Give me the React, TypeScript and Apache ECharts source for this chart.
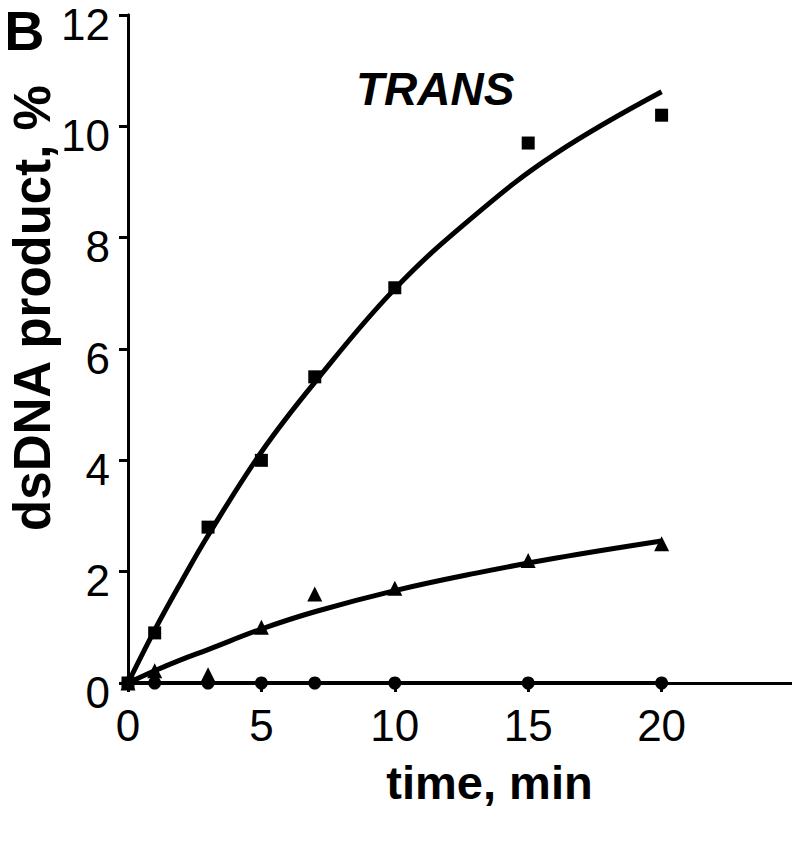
import React, { useEffect, useRef } from "react";
import * as echarts from "echarts";

// measured time points (min)
const squareTimes = [0, 1, 3, 5, 7, 10, 15, 20];
const squareValues = [0, 0.9, 2.8, 4.0, 5.5, 7.1, 9.7, 10.2];
const triangleTimes = [0, 1, 3, 5, 7, 10, 15, 20];
const triangleValues = [0, 0.22, 0.15, 1.0, 1.6, 1.7, 2.2, 2.5];
const circleTimes = [0, 1, 3, 5, 7, 10, 15, 20];
const circleValues = [0, 0, 0, 0, 0, 0, 0, 0];

// fitted curves
const fitTimes = [0, 1, 2, 3, 5, 7, 10, 13, 16, 20];
const squareFit = [0, 0.95, 1.82, 2.65, 4.15, 5.4, 7.08, 8.4, 9.5, 10.62];
const triangleFit = [0, 0.22, 0.42, 0.6, 0.97, 1.28, 1.66, 1.97, 2.24, 2.55];
const circleFitTimes = [0, 20];
const circleFit = [0, 0];

const xTicks = [0, 5, 10, 15, 20];
const yTicks = [0, 2, 4, 6, 8, 10, 12];

const FONT = "'Liberation Sans', Arial, sans-serif";

const pair = (xs: number[], ys: number[]) => xs.map((x, i) => [x, ys[i]]);

export default function App() {
  const ref = useRef<HTMLDivElement>(null);
  useEffect(() => {
    if (!ref.current) return;
    const chart = echarts.init(ref.current, null, { renderer: "svg" });
    const axisLine = { show: true, lineStyle: { color: "#000", width: 3 } };
    chart.setOption({
      animation: false,
      backgroundColor: "#fff",
      grid: {
        left: 128,
        right: 5,
        top: 15,
        bottom: 159,
        containLabel: false,
        outerBoundsMode: "none",
      },
      xAxis: [
        {
          type: "value",
          min: 0,
          max: 25,
          interval: 5,
          axisLine,
          axisTick: { show: true, length: 9, inside: false, lineStyle: { color: "#000", width: 3 } },
          splitLine: { show: false },
          axisLabel: {
            margin: 20,
            fontSize: 44,
            fontFamily: FONT,
            color: "#000",
            formatter: (v: number) => (xTicks.includes(v) ? String(v) : ""),
          },
          name: "time, min",
          nameLocation: "middle",
          nameGap: 76,
          nameTextStyle: {
            fontSize: 47,
            fontWeight: "bold",
            fontFamily: FONT,
            color: "#000",
            padding: [0, 0, 0, 56],
          },
        },
        {
          type: "value",
          position: "top",
          min: 0,
          max: 25,
          interval: 5,
          axisLine,
          axisTick: { show: false },
          axisLabel: { show: false },
          splitLine: { show: false },
        },
      ],
      yAxis: [
        {
          type: "value",
          min: 0,
          max: 12,
          interval: 2,
          axisLine,
          axisTick: { show: true, length: 9, lineStyle: { color: "#000", width: 3 } },
          splitLine: { show: false },
          axisLabel: {
            margin: 18,
            fontSize: 44,
            lineHeight: 18,
            verticalAlign: "top",
            fontFamily: FONT,
            color: "#000",
            formatter: (v: number) => (yTicks.includes(v) ? String(v) : ""),
          },
        },
        {
          type: "value",
          position: "right",
          min: 0,
          max: 12,
          interval: 2,
          axisLine,
          axisTick: { show: false },
          axisLabel: { show: false },
          splitLine: { show: false },
        },
      ],
      graphic: [
        {
          type: "text",
          left: 4,
          top: 2,
          style: {
            text: "B",
            fontSize: 56,
            fontWeight: "bold",
            fontFamily: FONT,
            fill: "#000",
          },
        },
        {
          type: "text",
          left: 356,
          top: 66,
          style: {
            text: "TRANS",
            fontSize: 46,
            fontWeight: "bold",
            fontStyle: "italic",
            fontFamily: FONT,
            fill: "#000",
          },
        },
        {
          type: "text",
          x: 32,
          y: 308,
          rotation: Math.PI / 2,
          style: {
            text: "dsDNA product, %",
            fontSize: 51,
            fontWeight: "bold",
            fontFamily: FONT,
            fill: "#000",
            align: "center",
            verticalAlign: "middle",
          },
        },
      ],
      series: [
        {
          type: "line",
          data: pair(fitTimes, squareFit),
          smooth: 0.4,
          showSymbol: false,
          lineStyle: { color: "#000", width: 5 },
          z: 3,
        },
        {
          type: "line",
          data: pair(fitTimes, triangleFit),
          smooth: 0.4,
          showSymbol: false,
          lineStyle: { color: "#000", width: 5 },
          z: 3,
        },
        {
          type: "line",
          data: pair(circleFitTimes, circleFit),
          showSymbol: false,
          lineStyle: { color: "#000", width: 4 },
          z: 3,
        },
        {
          type: "scatter",
          data: pair(squareTimes, squareValues),
          symbol: "rect",
          symbolSize: 13,
          itemStyle: { color: "#000", opacity: 1 },
          z: 4,
        },
        {
          type: "scatter",
          data: pair(triangleTimes, triangleValues),
          symbol: "triangle",
          symbolSize: 15,
          itemStyle: { color: "#000", opacity: 1 },
          z: 4,
        },
        {
          type: "scatter",
          data: pair(circleTimes, circleValues),
          symbol: "circle",
          symbolSize: 13,
          itemStyle: { color: "#000", opacity: 1 },
          z: 4,
        },
      ],
    });
    return () => chart.dispose();
  }, []);
  return <div ref={ref} style={{ width: 800, height: 842, margin: -8 }} />;
}
